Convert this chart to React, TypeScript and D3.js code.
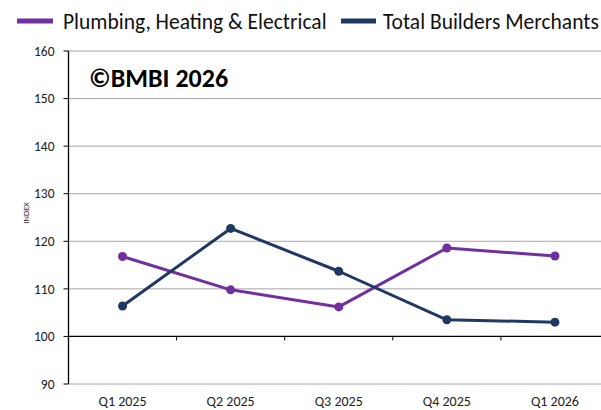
import React from "react";
import * as d3 from "d3";

const categories = ["Q1 2025", "Q2 2025", "Q3 2025", "Q4 2025", "Q1 2026"];
const phe = [116.8, 109.8, 106.2, 118.6, 116.9];
const tbm = [106.4, 122.7, 113.7, 103.5, 103.0];
const yTicks = [90, 100, 110, 120, 130, 140, 150, 160];
const seriesNames = ["Plumbing, Heating & Electrical", "Total Builders Merchants"];
const colors = ["#7030A0", "#1F3864"];

const W = 601, H = 410;
const left = 68.5, right = 609, top = 51, bottom = 384;
const font = "Carlito, 'Open Sans', 'Liberation Sans', sans-serif";

export default function App() {
  const x = d3.scaleBand<string>().domain(categories).range([left, right]);
  const y = d3.scaleLinear().domain([90, 160]).range([bottom, top]);
  const line = d3.line<number>()
    .x((_, i) => (x(categories[i]) as number) + x.bandwidth() / 2)
    .y((d) => y(d));
  const series = [phe, tbm];
  const y100 = y(100);
  return (
    <svg width={W} height={H} style={{ position: "absolute", left: 0, top: 0 }}>
      <rect width={W} height={H} fill="#fff" />
      {yTicks.map((t) => (
        <g key={t}>
          {t !== 100 && (
            <line x1={left} x2={W} y1={y(t)} y2={y(t)} stroke="#a6a6a6" strokeWidth={1} />
          )}
          <line x1={left - 5} x2={left} y1={y(t)} y2={y(t)} stroke="#000" strokeWidth={1} />
          <text x={left - 14} y={y(t)} dy="0.35em" textAnchor="end" fontSize={13.5} fill="#222" fontFamily={font}>
            {t}
          </text>
        </g>
      ))}
      <line x1={left} x2={W} y1={y100} y2={y100} stroke="#000" strokeWidth={1.3} />
      <line x1={left} x2={left} y1={top} y2={bottom} stroke="#000" strokeWidth={1.3} />
      {categories.slice(1).map((c) => (
        <line key={c} x1={x(c) as number} x2={x(c) as number} y1={y100} y2={y100 + 4} stroke="#000" strokeWidth={1} />
      ))}
      {categories.map((c) => (
        <text key={c} x={(x(c) as number) + x.bandwidth() / 2} y={406} textAnchor="middle" fontSize={14} fill="#222" fontFamily={font}>
          {c}
        </text>
      ))}
      <text transform="translate(29,213) rotate(-90)" textAnchor="middle" fontSize={8.5} fill="#222" fontFamily={font}>
        INDEX
      </text>
      <text x={89} y={87} fontSize={26} fontWeight="bold" fill="#000" fontFamily={font}>
        ©BMBI 2026
      </text>
      {series.map((s, si) => (
        <g key={si}>
          <path d={line(s) || ""} fill="none" stroke={colors[si]} strokeWidth={3} strokeLinejoin="round" />
          {s.map((v, i) => (
            <circle key={i} cx={(x(categories[i]) as number) + x.bandwidth() / 2} cy={y(v)} r={4.5} fill={colors[si]} />
          ))}
        </g>
      ))}
      <g>
        <rect x={17} y={18.5} width={36} height={5} fill={colors[0]} />
        <text x={63} y={28.5} fontSize={21.5} fill="#111" fontFamily={font}>{seriesNames[0]}</text>
        <rect x={341} y={18.5} width={35} height={5} fill={colors[1]} />
        <text x={383} y={28.5} fontSize={21.5} fill="#111" fontFamily={font}>{seriesNames[1]}</text>
      </g>
    </svg>
  );
}
